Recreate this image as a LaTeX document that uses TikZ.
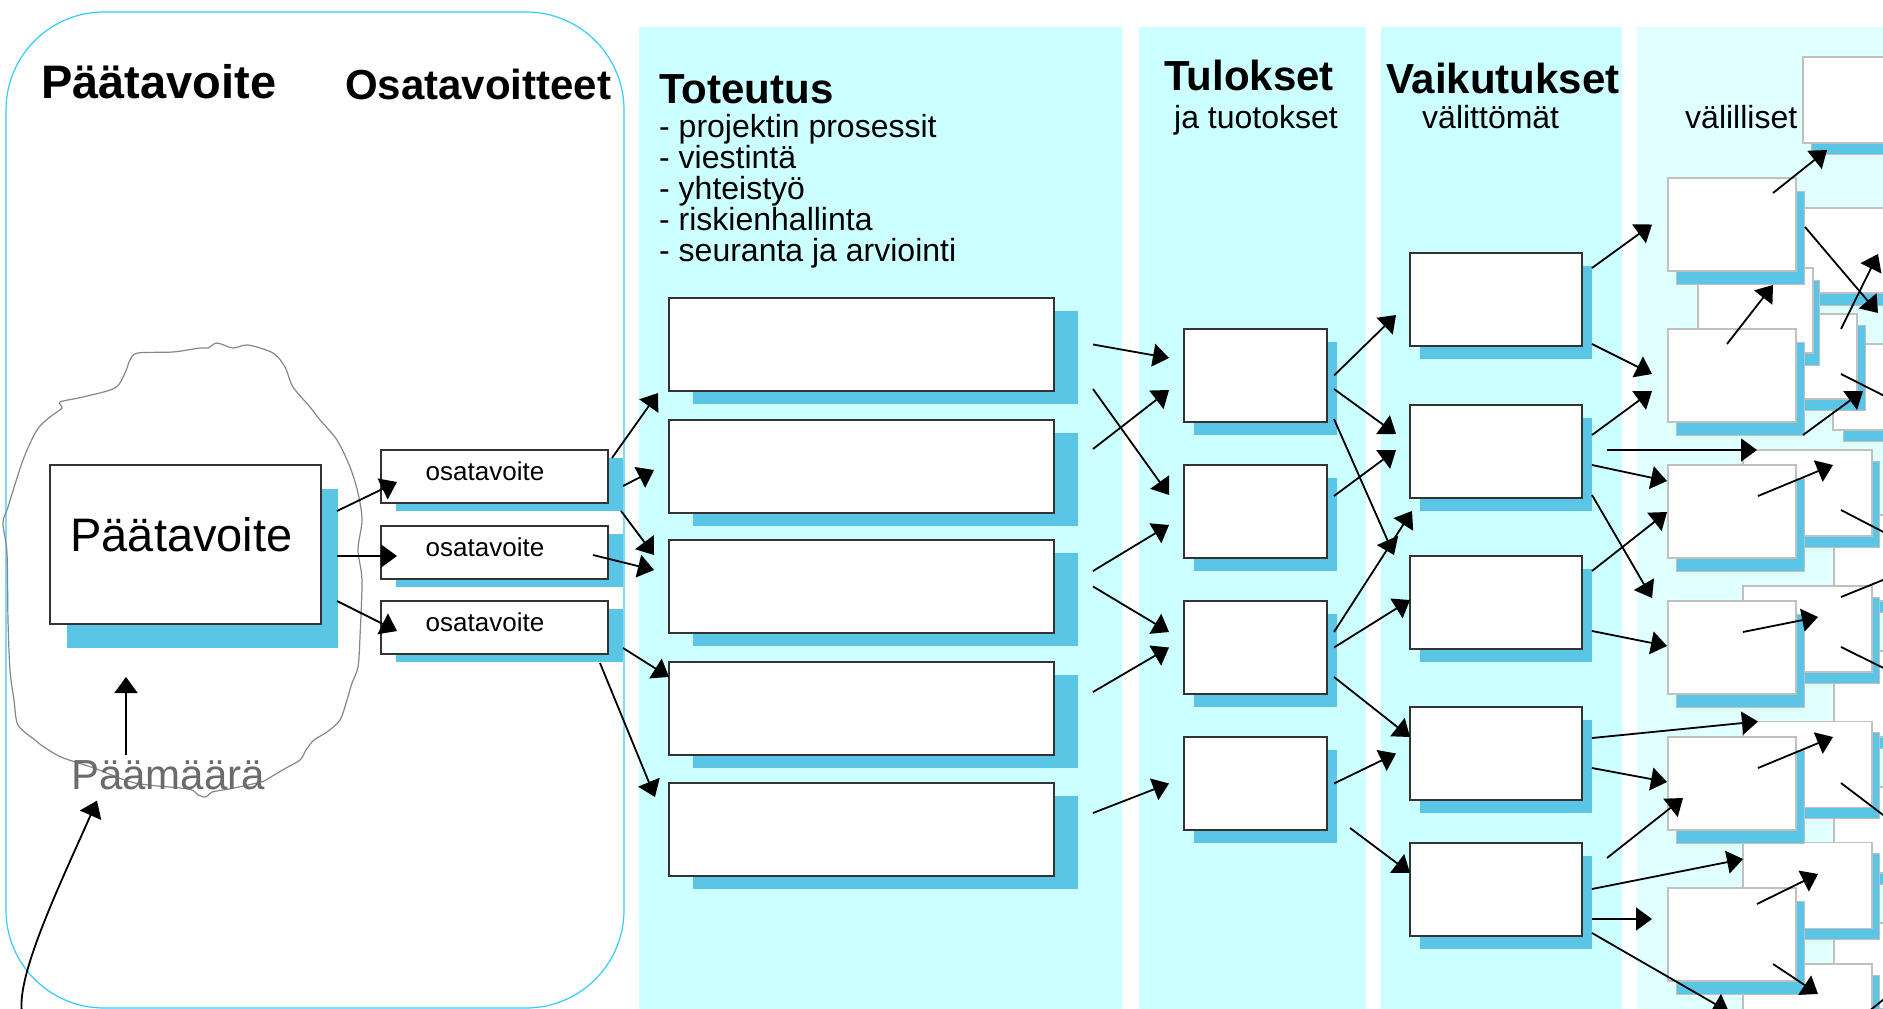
\documentclass[tikz,border=0pt]{standalone}
\usepackage{fontspec}
\setmainfont{Liberation Sans}
\usetikzlibrary{arrows.meta,shadows}
\definecolor{colbg}{HTML}{CCFFFF}
\definecolor{collight}{HTML}{E0FFFF}
\definecolor{sky}{HTML}{5BC5E6}
\definecolor{framecol}{HTML}{33CCFF}
\definecolor{lgray}{HTML}{C0C0C0}
\definecolor{txtgray}{HTML}{6B6B6B}
\tikzset{bx/.style={draw=black!80, line width=1.5pt, fill=white, inner sep=0pt, outer sep=0pt}}
\tikzset{vbx/.style={draw=lgray, line width=1.2pt, fill=white, inner sep=0pt, outer sep=0pt}}
\tikzset{shd/.style 2 args={drop shadow={shadow xshift=#1pt, shadow yshift=-#2pt, fill=sky, opacity=1}}}
\tikzset{vshd/.style 2 args={drop shadow={shadow xshift=#1pt, shadow yshift=-#2pt, fill=sky, draw=lgray, line width=1pt, opacity=1}}}
\tikzset{arr/.style={-{Triangle[length=16pt,width=23pt]}, line width=1.8pt}}
\tikzset{hd/.style={inner sep=0pt, anchor=base west, font=\fontsize{42}{46}\selectfont\bfseries}}
\tikzset{sub/.style={inner sep=0pt, anchor=base west, font=\fontsize{32}{36}\selectfont}}

\begin{document}
\begin{tikzpicture}[x=1pt,y=-1pt]
  \useasboundingbox (0,0) rectangle (1883,1009);
  \fill[white] (0,0) rectangle (1883,1009);
  \clip (0,0) rectangle (1883,1009);

  % columns
  \fill[colbg] (639,27) rectangle (1122,1009);
  \fill[colbg] (1139,27) rectangle (1366,1009);
  \fill[colbg] (1381,27) rectangle (1622,1009);
  \fill[collight] (1637,27) rectangle (1883,1009);
  \draw[framecol, line width=1.2pt, rounded corners=98pt] (6,12) rectangle (624,1008);

  % cloud
  \draw[black!47, line width=1.2pt] plot[smooth cycle, tension=0.5] coordinates {
    (138,353) (173,352) (200,348) (208,348) (217,343) (233,348) (248,345) (273,353)
    (285,367) (293,387) (310,407) (320,420) (337,440) (350,467) (358,493) (362,520)
    (358,550) (362,580) (360,637) (358,667) (352,683) (347,700) (340,720) (327,732)
    (314,740) (306,750) (300,760) (286,768) (269,778) (261,782) (229,789) (212,792)
    (206,797) (198,795) (188,789) (135,783) (94,768) (61,757) (41,745) (35,740)
    (18,725) (14,700) (10,670) (8,620) (7,553) (3,523) (8,507) (23,460) (37,430)
    (50,417) (62,408) (60,402) (83,397) (115,388) (125,373) (130,360)};

  % headings
  \node[hd, font=\fontsize{47}{50}\selectfont\bfseries] (hpa) at (41,98) {Päätavoite};
  \node[hd] (hosa) at (345,99) {Osatavoitteet};
  \node[hd] (htot) at (659,103) {Toteutus};
  \foreach \t [count=\i] in {projektin prosessit,viestintä,yhteistyö,riskienhallinta,seuranta ja arviointi}
    \node[sub] (l\i) at (659,106+31*\i) {- \t};
  \node[hd] (htul) at (1164,90) {Tulokset};
  \node[sub] (htul2) at (1174,128) {ja tuotokset};
  \node[hd] (hvai) at (1386,93) {Vaikutukset};
  \node[sub] (hvai2) at (1422,128) {välittömät};
  \node[sub] (hval) at (1685,128) {välilliset};

  % goals
  \node[bx, minimum width=271pt, minimum height=159pt, shd={17}{24},
    label={[xshift=-4pt, yshift=10pt, font=\fontsize{47}{50}\selectfont]center:Päätavoite}] (pa) at (185.5,544.5) {};
  \node[inner sep=0pt, anchor=base west, text=txtgray, font=\fontsize{42}{46}\selectfont] (pm) at (71,789) {Päämäärä};
  \foreach \y [count=\i] in {476.5,552.5,627.5}
    \node[bx, minimum width=227pt, minimum height=53pt, shd={15}{8},
      label={[xshift=-9.5pt, yshift=5.5pt, font=\fontsize{26}{30}\selectfont]center:osatavoite}] (o\i) at (494.5,\y) {};

  \foreach \y [count=\i] in {344.5,466.5,586.5,708.5,829.5}
    \node[bx, minimum width=385pt, minimum height=93pt, shd={24}{13}] (t\i) at (861.5,\y) {};
  \foreach \y [count=\i] in {375.5,511.5,647.5,783.5}
    \node[bx, minimum width=143pt, minimum height=93pt, shd={10}{13}] (r\i) at (1255.5,\y) {};
  \foreach \y [count=\i] in {299.5,451.5,602.5,753.5,889.5}
    \node[bx, minimum width=172pt, minimum height=93pt, shd={10}{13}] (v\i) at (1496,\y) {};

  % indirect effects, back to front
  \node[vbx, minimum width=129pt, minimum height=86pt, vshd={8}{11}] (n1) at (1867.5,100) {};
  \node[vbx, minimum width=129pt, minimum height=85pt, vshd={14}{12}] (n2) at (1868.5,250.5) {};
  \node[vbx, minimum width=129pt, minimum height=86pt, vshd={10}{11}] (n3) at (1897.5,387) {};
  \node[vbx, minimum width=129pt, minimum height=85pt, vshd={8}{11}] (m2) at (1792.5,356.5) {};
  \node[vbx, minimum width=115pt, minimum height=85pt, vshd={6}{12}] (m1) at (1755.5,310.5) {};
  \foreach \y [count=\i] in {558,694,830,966}
    \node[vbx, minimum width=129pt, minimum height=86pt, vshd={7}{11}] (s\i) at (1898.5,\y) {};
  \foreach \y [count=\i] in {493,629,764.5,885.5,1007}
    \node[vbx, minimum width=129pt, minimum height=86pt, vshd={7}{11}] (q\i) at (1807.5,\y) {};
  \foreach \y [count=\i] in {224.5,375.5,511.5,647.5,783.5,934.5}
    \node[vbx, minimum width=128pt, minimum height=93pt, vshd={8}{13}] (p\i) at (1732,\y) {};

  % main goal and sub goals
  \draw[arr] ([shift={(16,-33.5)}]pa.east) -- ([shift={(16,5.5)}]o1.west);
  \draw[arr] ([shift={(16,11.5)}]pa.east) -- ([shift={(16,3.5)}]o2.west);
  \draw[arr] ([shift={(16,56.5)}]pa.east) -- ([shift={(16,3.5)}]o3.west);
  \draw[arr] ([shift={(55,-5)}]pm.north west) -- ([shift={(-59.5,53)}]pa.south);
  \coordinate (src) at (22,1012);
  \draw[arr] (src) .. controls (16,975) and (62,880) .. ([shift={(26,11)}]pm.south west);

  % sub goals to implementation
  \draw[arr] ([shift={(4,-18.5)}]o1.east) -- ([shift={(-11,48.5)}]t1.west);
  \draw[arr] ([shift={(15,9.5)}]o1.east) -- ([shift={(-15,3.5)}]t2.west);
  \draw[arr] ([shift={(13,34.5)}]o1.east) -- ([shift={(-15,-31.5)}]t3.west);
  \draw[arr] ([shift={(-15,2.5)}]o2.east) -- ([shift={(-15,-16.5)}]t3.west);
  \draw[arr] ([shift={(15,20.5)}]o3.east) -- ([shift={(0,-31.5)}]t4.west);
  \draw[arr] ([shift={(-8,35.5)}]o3.east) -- ([shift={(-14,-32.5)}]t5.west);

  % implementation to results
  \draw[arr] ([shift={(39,0)}]t1.east) -- ([shift={(-15,-17.5)}]r1.west);
  \draw[arr] ([shift={(39,44.5)}]t1.east) -- ([shift={(-15,-16.5)}]r2.west);
  \draw[arr] ([shift={(39,-17.5)}]t2.east) -- ([shift={(-15,14.5)}]r1.west);
  \draw[arr] ([shift={(39,-15.5)}]t3.east) -- ([shift={(-15,13.5)}]r2.west);
  \draw[arr] ([shift={(39,0)}]t3.east) -- ([shift={(-15,-15.5)}]r3.west);
  \draw[arr] ([shift={(39,-16.5)}]t4.east) -- ([shift={(-15,0)}]r3.west);
  \draw[arr] ([shift={(39,-16.5)}]t5.east) -- ([shift={(-15,0)}]r4.west);

  % results to direct effects
  \draw[arr] ([shift={(7,0)}]r1.east) -- ([shift={(-14,15.5)}]v1.west);
  \draw[arr] ([shift={(7,13.5)}]r1.east) -- ([shift={(-14,-17.5)}]v2.west);
  \draw[arr] ([shift={(7,43.5)}]r1.east) -- ([shift={(-16,-47.5)}]v3.west);
  \draw[arr] ([shift={(7,-15.5)}]r2.east) -- ([shift={(-14,-1.5)}]v2.west);
  \draw[arr] ([shift={(7,-15.5)}]r3.east) -- ([shift={(2,59.5)}]v2.west);
  \draw[arr] ([shift={(7,0)}]r3.east) -- ([shift={(0,-2.5)}]v3.west);
  \draw[arr] ([shift={(7,29.5)}]r3.east) -- ([shift={(0,-16.5)}]v4.west);
  \draw[arr] ([shift={(7,0)}]r4.east) -- ([shift={(-14,0)}]v4.west);
  \draw[arr] ([shift={(23,44.5)}]r4.east) -- ([shift={(0,-16.5)}]v5.west);

  % direct to indirect effects
  \draw[arr] ([shift={(10,-31.5)}]v1.east) -- ([shift={(-16,0)}]p1.west);
  \draw[arr] ([shift={(10,44.5)}]v1.east) -- ([shift={(-16,-1.5)}]p2.west);
  \draw[arr] ([shift={(10,-16.5)}]v2.east) -- ([shift={(-16,15.5)}]p2.west);
  \draw[arr] ([shift={(25,-1.5)}]v2.east) -- ([shift={(14,0)}]q1.north west);
  \draw[arr] ([shift={(10,13.5)}]v2.east) -- ([shift={(-1,-30.5)}]p3.west);
  \draw[arr] ([shift={(10,43.5)}]v2.east) -- ([shift={(-16,-49.5)}]p4.west);
  \draw[arr] ([shift={(10,-31.5)}]v3.east) -- ([shift={(-1,0.5)}]p3.west);
  \draw[arr] ([shift={(10,28.5)}]v3.east) -- ([shift={(-1,-1.5)}]p4.west);
  \draw[arr] ([shift={(10,-15.5)}]v4.east) -- ([shift={(15,0)}]q3.north west);
  \draw[arr] ([shift={(10,14.5)}]v4.east) -- ([shift={(-1,-1.5)}]p5.west);
  \draw[arr] ([shift={(25,-31.5)}]v5.east) -- ([shift={(15,14.5)}]p5.west);
  \draw[arr] ([shift={(10,-0.5)}]v5.east) -- ([shift={(0,-26.5)}]q4.west);
  \draw[arr] ([shift={(10,29.5)}]v5.east) -- ([shift={(-16,-15.5)}]p6.west);
  \draw[arr] ([shift={(10,43.5)}]v5.east) -- ([shift={(-3,31)}]p6.south);

  % among indirect effects
  \draw[arr] ([shift={(41,-31.5)}]p1.center) -- ([shift={(-40.5,7)}]n1.south);
  \draw[arr] ([shift={(9,2.5)}]p1.east) -- ([shift={(21,-1)}]m2.north east);
  \draw[arr] ([shift={(-5,-31.5)}]p2.center) -- ([shift={(17.5,-25.5)}]m1.center);
  \draw[arr] ([shift={(48.5,-27.5)}]m2.center) -- ([shift={(9.5,3.5)}]n2.center);
  \draw[arr] ([shift={(48.5,17.5)}]m2.center) -- ([shift={(22.5,27)}]n3.center);
  \draw[arr] ([shift={(7,13)}]p2.south east) -- ([shift={(6,-8)}]m2.south east);
  \draw[arr] ([shift={(26,-15.5)}]p3.center) -- ([shift={(25.5,-28)}]q1.center);
  \draw[arr] ([shift={(33.5,17)}]q1.center) -- ([shift={(48,58)}]q1.east);
  \draw[arr] ([shift={(33.5,-32)}]q2.center) -- ([shift={(48,-64)}]q2.east);
  \draw[arr] ([shift={(33.5,18)}]q2.center) -- ([shift={(48,57)}]q2.east);
  \draw[arr] ([shift={(11,-15.5)}]p4.center) -- ([shift={(10.5,-12)}]q2.center);
  \draw[arr] ([shift={(26,-15.5)}]p5.center) -- ([shift={(25.5,-27.5)}]q3.center);
  \draw[arr] ([shift={(33.5,18.5)}]q3.center) -- ([shift={(48,78.5)}]q3.east);
  \draw[arr] ([shift={(25,-30.5)}]p6.center) -- ([shift={(10.5,-11.5)}]q4.center);
  \draw[arr] ([shift={(41,29.5)}]p6.center) -- ([shift={(10.5,-13)}]q5.center);
  \draw[arr] ([shift={(60.5,5)}]q5.center) -- ([shift={(97.5,-25)}]q5.center);
\end{tikzpicture}
\end{document}
